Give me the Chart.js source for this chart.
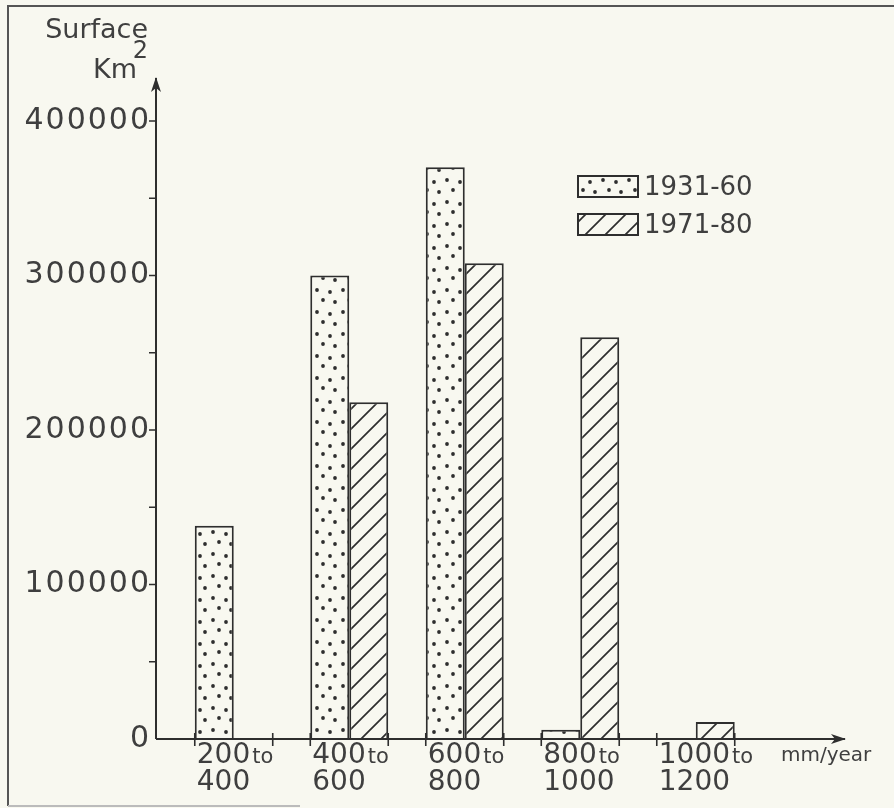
<!DOCTYPE html>
<html>
<head>
<meta charset="utf-8">
<script src="https://cdn.jsdelivr.net/npm/chart.js@4.4.1/dist/chart.umd.min.js"></script>
<style>
  html, body { margin: 0; padding: 0; background: #f8f8f0; }
  canvas { display: block; }
</style>
</head>
<body>
<canvas id="chart" width="894" height="808"></canvas>
<script>
// Rainfall classes (mm/year) and the surface (km2) in each class
const rangeFrom = ['200', '400', '600', '800', '1000'];
const rangeTo = ['400', '600', '800', '1000', '1200'];
const surface1931 = [138000, 300000, 370000, 6000, null];
const surface1971 = [null, 218000, 308000, 260000, 11000];
const seriesNames = ['1931-60', '1971-80'];
const yTicks = [0, 100000, 200000, 300000, 400000];
const yMinorTicks = [50000, 150000, 250000, 350000];

const PAPER = '#f8f8f0';
const INK = '#2e2e2e';
const TEXT = '#3f3f3f';
const FONT = '"DejaVu Sans", sans-serif';

// stippled fill, like the hand drawn dots
function dotPattern() {
    const c = document.createElement('canvas');
    c.width = 26; c.height = 22;
    const g = c.getContext('2d');
    g.fillStyle = PAPER;
    g.fillRect(0, 0, 26, 22);
    g.fillStyle = INK;
    [[5, 4], [18, 6], [11, 14], [23, 16]].forEach(function(p) {
        g.beginPath();
        g.arc(p[0], p[1], 1.9, 0, Math.PI * 2);
        g.fill();
    });
    return g.createPattern(c, 'repeat');
}

// diagonal hatching "/"
function hatchPattern() {
    const c = document.createElement('canvas');
    c.width = 20; c.height = 20;
    const g = c.getContext('2d');
    g.fillStyle = PAPER;
    g.fillRect(0, 0, 20, 20);
    g.strokeStyle = INK;
    g.lineWidth = 1.7;
    g.beginPath();
    g.moveTo(-2, 22); g.lineTo(22, -2);
    g.moveTo(-2, 2); g.lineTo(2, -2);
    g.moveTo(18, 22); g.lineTo(22, 18);
    g.stroke();
    return g.createPattern(c, 'repeat');
}

const fills = [dotPattern(), hatchPattern()];
const groupPct = 0.675;

function arrow(ctx, x, y, dx, dy) {
    // arrow head pointing along (dx, dy)
    const len = 15, half = 5;
    const px = -dy, py = dx;
    ctx.beginPath();
    ctx.moveTo(x, y);
    ctx.lineTo(x - dx * len + px * half, y - dy * len + py * half);
    ctx.lineTo(x - dx * (len - 4), y - dy * (len - 4));
    ctx.lineTo(x - dx * len - px * half, y - dy * len - py * half);
    ctx.closePath();
    ctx.fill();
}

const handAxes = {
    id: 'handAxes',
    beforeDraw(chart) {
        const ctx = chart.ctx;
        ctx.save();
        ctx.fillStyle = PAPER;
        ctx.fillRect(0, 0, chart.width, chart.height);
        ctx.restore();
        // wide lettering for the y tick labels
        ctx.letterSpacing = '2px';
    },
    afterDraw(chart) {
        const ctx = chart.ctx;
        const area = chart.chartArea;
        const xs = chart.scales.x, ys = chart.scales.y;
        const axisX = area.left - 20;
        const axisY = ys.getPixelForValue(0);
        ctx.save();
        ctx.letterSpacing = '0px';

        // frame
        ctx.strokeStyle = '#555';
        ctx.lineWidth = 2;
        ctx.beginPath();
        ctx.moveTo(8, 806); ctx.lineTo(8, 6); ctx.lineTo(894, 6);
        ctx.stroke();
        ctx.strokeStyle = '#bbb';
        ctx.beginPath();
        ctx.moveTo(8, 806); ctx.lineTo(300, 806);
        ctx.stroke();

        // axes
        ctx.strokeStyle = INK;
        ctx.fillStyle = INK;
        ctx.lineWidth = 2;
        ctx.beginPath();
        ctx.moveTo(axisX, axisY); ctx.lineTo(845, axisY);
        ctx.moveTo(axisX, axisY); ctx.lineTo(axisX, 78);
        ctx.stroke();
        arrow(ctx, 846, axisY, 1, 0);
        arrow(ctx, axisX, 77, 0, -1);

        // y ticks
        ctx.lineWidth = 1.6;
        ctx.beginPath();
        yTicks.concat(yMinorTicks).forEach(function(v) {
            if (v === 0) return;
            const y = ys.getPixelForValue(v);
            ctx.moveTo(axisX - 7, y); ctx.lineTo(axisX + 1, y);
        });
        ctx.stroke();

        // x ticks at both edges of every class, and class labels
        const step = xs.width / rangeFrom.length;
        ctx.textBaseline = 'middle';
        ctx.textAlign = 'left';
        ctx.fillStyle = TEXT;
        rangeFrom.forEach(function(from, i) {
            const c = xs.getPixelForValue(i);
            const l = c - step * groupPct / 2, r = c + step * groupPct / 2;
            ctx.beginPath();
            ctx.moveTo(l, axisY - 6); ctx.lineTo(l, axisY + 7);
            ctx.moveTo(r, axisY - 6); ctx.lineTo(r, axisY + 7);
            ctx.stroke();
            ctx.font = '28px ' + FONT;
            ctx.fillText(from, l + 2, axisY + 17);
            const w = ctx.measureText(from).width;
            ctx.font = '21px ' + FONT;
            ctx.fillText('to', l + 4 + w, axisY + 19);
            ctx.font = '28px ' + FONT;
            ctx.fillText(rangeTo[i], l + 2, axisY + 44);
        });
        ctx.font = '20px ' + FONT;
        ctx.fillText('mm/year', 781, axisY + 17);

        // y axis title
        ctx.textAlign = 'right';
        ctx.font = '27px ' + FONT;
        ctx.fillText('Surface', 148, 31);
        ctx.fillText('Km', 137, 71);
        ctx.font = '24px ' + FONT;
        ctx.fillText('2', 148, 52);

        // legend
        chart.data.datasets.forEach(function(ds, i) {
            const top = 176 + i * 38;
            ctx.fillStyle = ds.backgroundColor;
            ctx.fillRect(578, top, 60, 21);
            ctx.strokeStyle = INK;
            ctx.lineWidth = 2;
            ctx.strokeRect(578, top, 60, 21);
            ctx.fillStyle = TEXT;
            ctx.textAlign = 'left';
            ctx.font = '26px ' + FONT;
            ctx.fillText(ds.label, 644, top + 12);
        });
        ctx.restore();
    }
};

const datasets = [surface1931, surface1971].map(function(values, i) {
    return {
        label: seriesNames[i],
        data: values,
        backgroundColor: fills[i],
        borderColor: INK,
        borderWidth: 2,
        categoryPercentage: groupPct,
        barPercentage: 1.0
    };
});

new Chart(document.getElementById('chart'), {
    type: 'bar',
    data: {
        labels: rangeFrom.map(function(f, i) { return f + ' to ' + rangeTo[i]; }),
        datasets: datasets
    },
    plugins: [handAxes],
    options: {
        responsive: false,
        animation: false,
        devicePixelRatio: 1,
        layout: { padding: { left: 0, top: 121, right: 140.5, bottom: 0 } },
        plugins: {
            legend: { display: false },
            tooltip: { enabled: false }
        },
        scales: {
            x: {
                grid: { display: false, drawTicks: false },
                border: { display: false },
                ticks: { display: false },
                afterFit: function(scale) { scale.height = 69; }
            },
            y: {
                min: 0,
                max: 400000,
                grid: { display: false, drawTicks: false },
                border: { display: false },
                afterBuildTicks: function(scale) {
                    scale.ticks = yTicks.map(function(v) { return { value: v }; });
                },
                ticks: {
                    color: TEXT,
                    padding: 25,
                    font: { family: FONT, size: 30 },
                    callback: function(v) { return String(v); }
                },
                afterFit: function(scale) { scale.width = 176; }
            }
        }
    }
});
</script>
</body>
</html>
